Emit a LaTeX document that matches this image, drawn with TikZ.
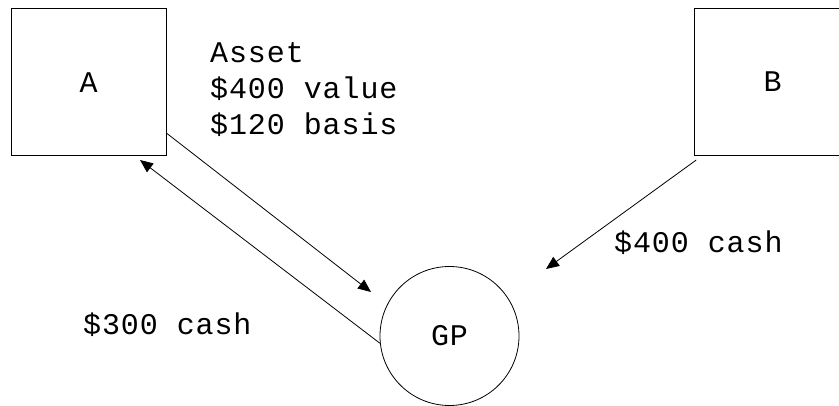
\documentclass[tikz,border=0pt]{standalone}
\usepackage{fontspec}
\setmainfont{Liberation Mono}[LetterSpace=3]
\usetikzlibrary{arrows.meta}
\begin{document}
\begin{tikzpicture}[x=1pt,y=-1pt,
  lbl/.style={font=\fontsize{30}{36}\selectfont},
  party/.style={draw, line width=1pt, minimum width=155.5pt, minimum height=147pt, inner sep=0pt, lbl},
  partner/.style={draw, circle, line width=0.8pt, minimum size=139pt, inner sep=0pt, lbl},
  note/.style={lbl, inner sep=0pt, anchor=base west},
  flow/.style={line width=0.8pt, -{Triangle[length=13pt,width=11pt]}}]
  % page frame; box B runs past the right edge
  \clip (0,0) rectangle (839,406);

  % the two partners and the partnership
  \node[party] (A) at (88.75,82.5) {A};
  \node[party] (B) at (772.5,82) {B};
  \node[partner] (GP) at (449.5,336) {GP};

  % labels of the transfers (base anchor sits on the last line)
  \node[note, align=left] (asset) at (210,135) {Asset\\\$400 value\\\$120 basis};
  \node[note] (cashB) at (614,253) {\$400 cash};
  \node[note] (cashA) at (83,335) {\$300 cash};

  % ends of the transfer arrows
  \coordinate (aout) at ([yshift=23pt]A.south east);
  \coordinate (gpin) at (371,292);
  \coordinate (ain) at (140,160);
  \coordinate (bout) at ([xshift=2pt,yshift=-4pt]B.south west);
  \coordinate (gpinB) at (546,269);

  % transfers
  \draw[flow] (aout) -- (gpin);
  \draw[flow] (GP.186) -- (ain);
  \draw[flow] (bout) -- (gpinB);
\end{tikzpicture}
\end{document}
